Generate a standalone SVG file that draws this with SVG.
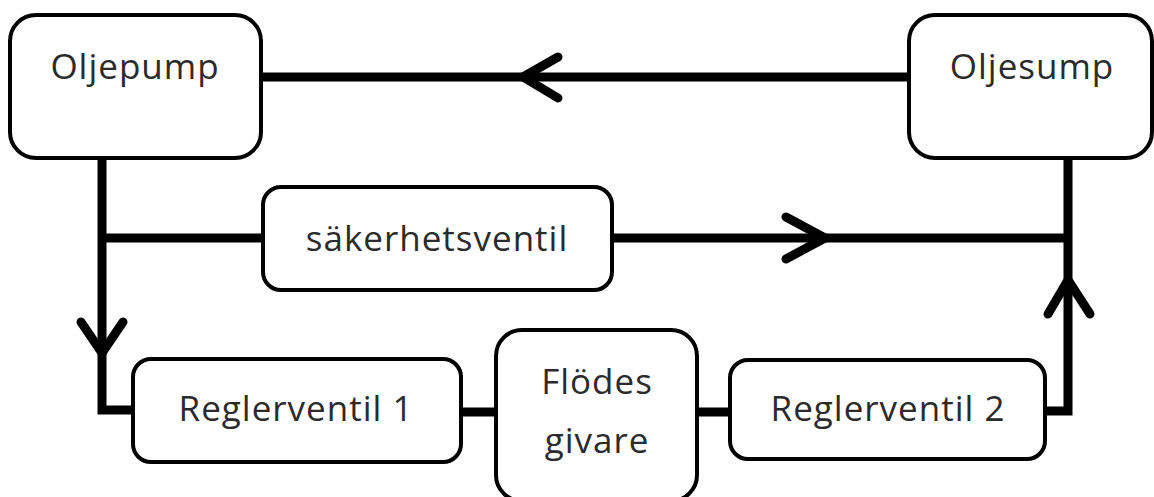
<svg xmlns="http://www.w3.org/2000/svg" width="1154" height="497" viewBox="0 0 1154 497">
  <style>
    .box { fill: #fff; stroke: #000; stroke-width: 4; }
    .lbl { font-family: "Open Sans", "Liberation Sans", sans-serif; font-size: 35px; fill: #2b2b2b; text-anchor: middle; letter-spacing: 1px; }
    .pipe { fill: none; stroke: #000; stroke-width: 9; }
    .head { fill: none; stroke: #000; stroke-width: 9; stroke-linecap: round; stroke-linejoin: round; }
  </style>
  <rect width="1154" height="497" fill="#fff"/>

  <!-- pipes and flow direction marks -->
  <g id="connectors">
    <line class="pipe" x1="260" y1="77" x2="908" y2="77"/>
    <polyline class="head" points="558,57 523,77 558,98"/>

    <polyline class="pipe" points="102,158 102,410 133,410"/>
    <polyline class="head" points="81,322 102,353 123,322"/>

    <line class="pipe" x1="102" y1="238" x2="263" y2="238"/>
    <line class="pipe" x1="612" y1="238" x2="1068" y2="238"/>
    <polyline class="head" points="786,217 825,238 786,259"/>

    <polyline class="pipe" points="1045,411 1068,411 1068,158"/>
    <polyline class="head" points="1048,314 1068,280 1090,314"/>

    <line class="pipe" x1="461" y1="412" x2="496" y2="412"/>
    <line class="pipe" x1="697" y1="412" x2="730" y2="412"/>
  </g>

  <g id="oljepump">
    <rect class="box" x="10" y="15" width="251" height="143" rx="26"/>
    <text class="lbl" x="135" y="79">Oljepump</text>
  </g>

  <g id="oljesump">
    <rect class="box" x="909" y="15" width="243" height="143" rx="26"/>
    <text class="lbl" x="1032" y="79">Oljesump</text>
  </g>

  <g id="sakerhetsventil">
    <rect class="box" x="263" y="187" width="349" height="103" rx="18"/>
    <text class="lbl" x="437" y="251">säkerhetsventil</text>
  </g>

  <g id="reglerventil1">
    <rect class="box" x="133" y="359" width="328" height="103" rx="18"/>
    <text class="lbl" x="296" y="421">Reglerventil 1</text>
  </g>

  <g id="flodesgivare">
    <rect class="box" x="496" y="330" width="201" height="171" rx="26"/>
    <text class="lbl" x="597" y="394">Flödes</text>
    <text class="lbl" x="597" y="453">givare</text>
  </g>

  <g id="reglerventil2">
    <rect class="box" x="730" y="360" width="315" height="99" rx="18"/>
    <text class="lbl" x="888" y="421">Reglerventil 2</text>
  </g>
</svg>
